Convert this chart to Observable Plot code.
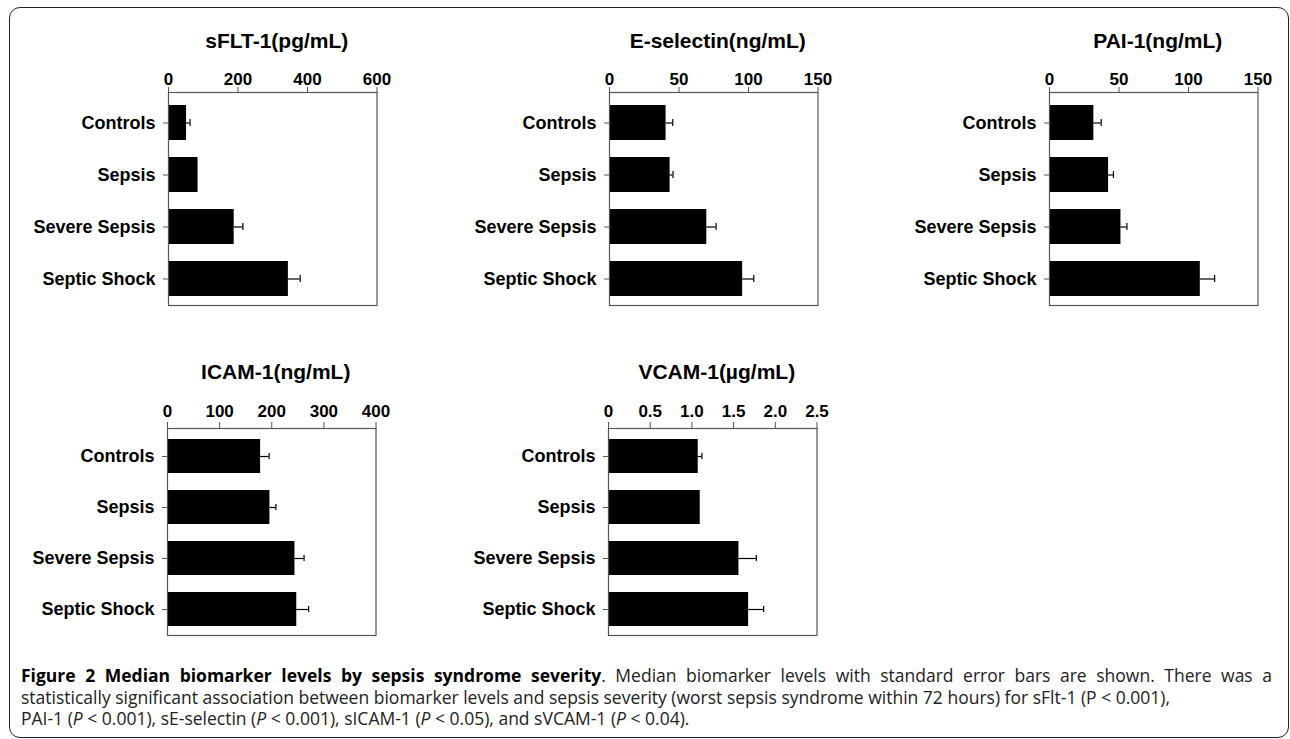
<!DOCTYPE html>
<html>
<head>
<meta charset="utf-8">
<script src="https://cdn.jsdelivr.net/npm/d3@7"></script>
<script src="https://cdn.jsdelivr.net/npm/@observablehq/plot@0.6"></script>
<style>
  html, body { margin: 0; padding: 0; background: #fff; overflow: hidden; }
  #page { position: relative; width: 1290px; height: 739px; }
  #box { position: absolute; left: 9px; top: 7px; width: 1280px; height: 731px; box-sizing: border-box;
         border: 1.5px solid #222; border-radius: 11px; }
  .panel { position: absolute; }
  #caption { position: absolute; left: 21px; top: 665px; width: 1251px; font-family: "Open Sans", sans-serif;
             font-size: 17.5px; line-height: 21.5px; color: #222; white-space: nowrap; }
  #caption div { height: 21.5px; }
  #caption .just { text-align: justify; text-align-last: justify; white-space: normal; }
  #caption b { color: #000; }
</style>
</head>
<body>
<div id="page">
  <div id="box"></div>
  <div id="caption"></div>
</div>
<script>
const categories = ["Controls", "Sepsis", "Severe Sepsis", "Septic Shock"];

const titles = ["sFLT-1(pg/mL)", "E-selectin(ng/mL)", "PAI-1(ng/mL)", "ICAM-1(ng/mL)", "VCAM-1(\u00b5g/mL)"];

const sfltMedian = [52, 85, 189, 345];
const sfltSE = [10, 0, 25, 34];
const eselMedian = [40.7, 43.6, 70, 95.8];
const eselSE = [4.8, 2.1, 6.7, 8];
const paiMedian = [31.9, 42.5, 51.4, 108.5];
const paiSE = [5.3, 3.5, 4.3, 10.3];
const icamMedian = [178.6, 196.5, 244.5, 248];
const icamSE = [16.4, 11.5, 17.5, 22.7];
const vcamMedian = [1.076, 1.10, 1.564, 1.68];
const vcamSE = [0.044, 0, 0.208, 0.18];

const sfltTicks = [0, 200, 400, 600];
const eselTicks = [0, 50, 100, 150];
const paiTicks = [0, 50, 100, 150];
const icamTicks = [0, 100, 200, 300, 400];
const vcamTicks = [0, 0.5, 1.0, 1.5, 2.0, 2.5];

const captionLines = [
  '<b>Figure 2 Median biomarker levels by sepsis syndrome severity</b>. Median biomarker levels with standard error bars are shown. There was a',
  'statistically significant association between biomarker levels and sepsis severity (worst sepsis syndrome within 72 hours) for sFlt-1 (P &lt; 0.001),',
  'PAI-1 (<i>P</i> &lt; 0.001), sE-selectin (<i>P</i> &lt; 0.001), sICAM-1 (<i>P</i> &lt; 0.05), and sVCAM-1 (<i>P</i> &lt; 0.04).'
];

const panels = [
  {title: titles[0], med: sfltMedian, se: sfltSE, ticks: sfltTicks, fmt: d => String(d), left: 0.5, row: 0},
  {title: titles[1], med: eselMedian, se: eselSE, ticks: eselTicks, fmt: d => String(d), left: 441.8, row: 0},
  {title: titles[2], med: paiMedian, se: paiSE, ticks: paiTicks, fmt: d => String(d), left: 882.3, row: 0},
  {title: titles[3], med: icamMedian, se: icamSE, ticks: icamTicks, fmt: d => String(d), left: 0.2, row: 1},
  {title: titles[4], med: vcamMedian, se: vcamSE, ticks: vcamTicks, fmt: d => d === 0 ? "0" : d.toFixed(1), left: 441.3, row: 1}
];

const rows = [
  {top: 0, marginTop: 92, frameBottom: 305, titleDy: -51, tickSize: 6, tickPadding: 2, padInner: 0.33, padOuter: 0.2, align: 0.6},
  {top: 340, marginTop: 88, frameBottom: 295, titleDy: -56, tickSize: 7, tickPadding: 5, padInner: 0.326, padOuter: 0.16, align: 0.55}
];

const page = document.getElementById("page");
const grey = "#555";

for (const p of panels) {
  const r = rows[p.row];
  const data = categories.map((c, i) => ({cat: c, v: p.med[i], hi: p.med[i] + p.se[i], se: p.se[i]}));
  const withErr = data.filter(d => d.se > 0);
  const marginBottom = 10;
  const chart = Plot.plot({
    width: 406,
    height: r.frameBottom + marginBottom,
    marginLeft: 167,
    marginRight: 30.5,
    marginTop: r.marginTop,
    marginBottom,
    style: {fontFamily: "'Liberation Sans', Arial, Helvetica, sans-serif", color: "#000", background: "transparent", overflow: "visible"},
    x: {domain: [p.ticks[0], p.ticks[p.ticks.length - 1]]},
    y: {domain: categories, paddingInner: r.padInner, paddingOuter: r.padOuter, align: r.align, label: null},
    marks: [
      Plot.barX(data, {x: "v", y: "cat", fill: "#000"}),
      Plot.ruleY(withErr, {x1: "v", x2: "hi", y: "cat", stroke: "#000", strokeWidth: 1.2}),
      Plot.tickX(withErr, {x: "hi", y: "cat", stroke: "#000", strokeWidth: 1.2, insetTop: 14, insetBottom: 14}),
      Plot.frame({stroke: grey, strokeWidth: 1.2}),
      Plot.axisX({anchor: "top", ticks: p.ticks, tickFormat: p.fmt, tickSize: r.tickSize, tickPadding: r.tickPadding,
                  stroke: grey, fontSize: 17, fontWeight: "bold", fill: "#000", label: null}),
      Plot.axisY({anchor: "left", tickSize: 5, tickPadding: 8, stroke: grey, fontSize: 18, fontWeight: "bold", fill: "#000", label: null}),
      Plot.text([p.title], {text: d => d, frameAnchor: "top", lineAnchor: "middle", dy: r.titleDy, dx: 4, fontSize: 21, fontWeight: "bold", fill: "#000"})
    ]
  });
  const div = document.createElement("div");
  div.className = "panel";
  div.style.left = p.left + "px";
  div.style.top = r.top + "px";
  div.appendChild(chart);
  page.appendChild(div);
}

document.getElementById("caption").innerHTML = captionLines
  .map((l, i) => `<div class="${i === 0 ? "just" : ""}">${l}</div>`).join("");
</script>
</body>
</html>
